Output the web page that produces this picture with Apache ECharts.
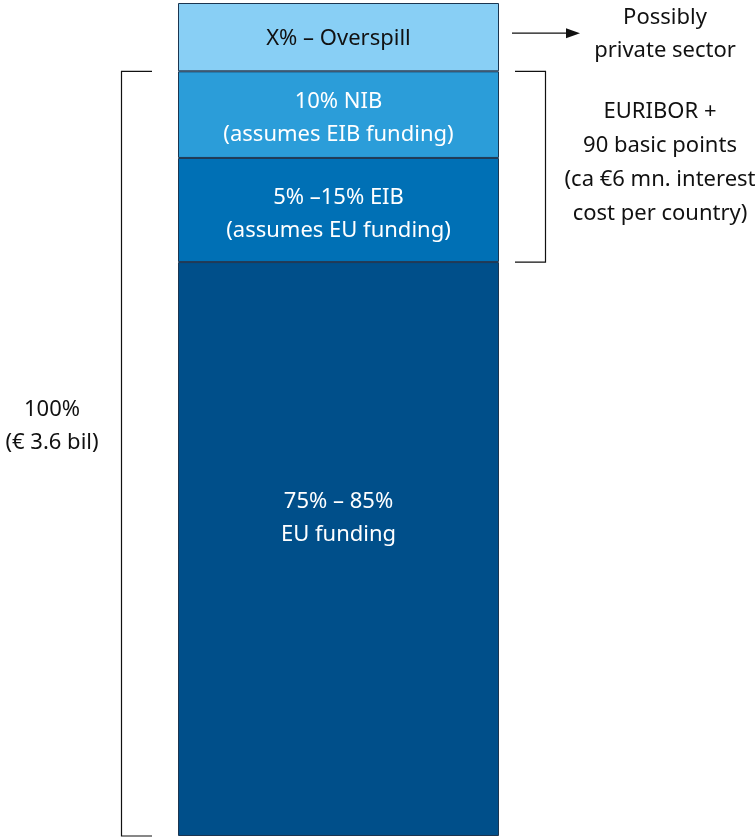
<!DOCTYPE html>
<html><head><meta charset="utf-8">
<script src="https://cdn.jsdelivr.net/npm/echarts@6/dist/echarts.min.js"></script>
<style>html,body{margin:0;padding:0;background:#fff}#c{width:756px;height:838px}</style>
</head><body><div id="c"></div>
<script>
var categories = ['Funding'];
var segmentNames = ['EU funding', 'EIB', 'NIB', 'Overspill'];
var segmentValues = [68.9, 12.5, 10.4, 8.2];
var segmentLabels = ['75% – 85%\nEU funding', '5% –15% EIB\n(assumes EU funding)', '10% NIB\n(assumes EIB funding)', 'X% – Overspill'];
var segmentColors = ['#004f8a', '#0070b5', '#2b9dd9', '#88cff5'];
var labelColors = ['#ffffff', '#ffffff', '#ffffff', '#111111'];
var leftNote = '100%\n(€ 3.6 bil)';
var rightNote = 'EURIBOR +\n90 basic points\n(ca €6 mn. interest\ncost per country)';
var arrowNote = 'Possibly\nprivate sector';

var FONT = 'Noto Sans';
var FS = 22;
var chart = echarts.init(document.getElementById('c'));
var labelOffsets = [[0, -31], [0, 4], [0, 4], [0, 2]];
var series = segmentValues.map(function (v, i) {
  return {
    name: segmentNames[i], type: 'bar', stack: 'total', barWidth: '100%',
    data: [v],
    itemStyle: { color: segmentColors[i], borderColor: '#1b3550', borderWidth: 1 },
    label: { show: true, position: 'inside', offset: labelOffsets[i], formatter: segmentLabels[i], color: labelColors[i],
      fontFamily: FONT, fontSize: FS, lineHeight: 33 }
  };
});
chart.setOption({
  animation: false,
  grid: { left: 178, right: 257, top: 3, bottom: 2 },
  xAxis: { type: 'category', data: categories, show: false },
  yAxis: { type: 'value', min: 0, max: 100, show: false },
  series: series
});

function py(v) { return chart.convertToPixel({ gridIndex: 0 }, [0, v])[1]; }
var total = segmentValues.reduce(function (a, b) { return a + b; }, 0);
var topMain = py(total - segmentValues[3]);
var bottom = py(0);
var eibBottom = py(segmentValues[0]);
var yOver = (py(total) + topMain) / 2;
var lineStyle = { stroke: '#111', lineWidth: 1.2 };
chart.setOption({
  graphic: [
    { type: 'polyline', shape: { points: [[152, topMain], [121.5, topMain], [121.5, bottom], [152, bottom]] }, style: lineStyle, silent: true },
    { type: 'polyline', shape: { points: [[515, topMain], [545.5, topMain], [545.5, eibBottom], [515, eibBottom]] }, style: lineStyle, silent: true },
    { type: 'line', shape: { x1: 512, y1: yOver - 4, x2: 566, y2: yOver - 4 }, style: lineStyle, silent: true },
    { type: 'polygon', shape: { points: [[566, yOver - 9], [580, yOver - 4], [566, yOver + 1]] }, style: { fill: '#111' }, silent: true },
    { type: 'text', style: { text: leftNote, x: 52, y: 426, align: 'center', verticalAlign: 'middle', fontFamily: FONT, fontSize: FS, lineHeight: 33, fill: '#111' } },
    { type: 'text', style: { text: rightNote, x: 660, y: 163, align: 'center', verticalAlign: 'middle', fontFamily: FONT, fontSize: FS, lineHeight: 34, fill: '#111' } },
    { type: 'text', style: { text: arrowNote, x: 665, y: 34, align: 'center', verticalAlign: 'middle', fontFamily: FONT, fontSize: FS, lineHeight: 33, fill: '#111' } }
  ]
});
</script></body></html>
